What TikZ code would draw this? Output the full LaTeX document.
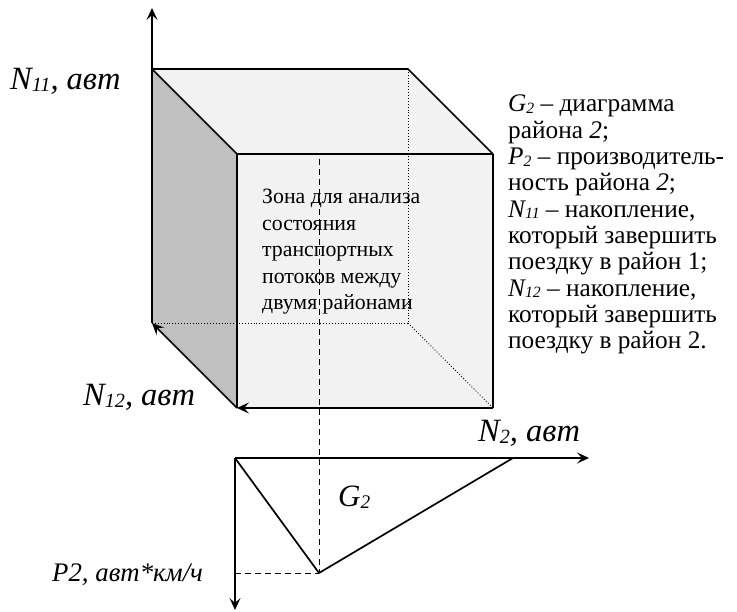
\documentclass[tikz,border=0pt]{standalone}
\usepackage{fontspec}
\usepackage{graphicx}
\setmainfont{Liberation Serif}
\usetikzlibrary{arrows.meta}
\newcommand\lowsub[1]{\raisebox{-0.06em}{\scalebox{0.62}{#1}}}
\begin{document}
\begin{tikzpicture}[x=1pt,y=-1pt,
  edge/.style={line width=1.7pt, line join=round},
  axis/.style={edge, -{Stealth[length=12pt,width=11pt,inset=5pt]}},
  hidden/.style={line width=0.9pt, dotted},
  guide/.style={line width=1pt, dash pattern=on 6pt off 4pt},
  lbl/.style={font=\fontsize{32.5}{36}\selectfont\itshape, inner sep=0pt, anchor=base west},
  txt/.style={inner sep=0pt, anchor=north west, align=left}]
\useasboundingbox (0,0) rectangle (737,612);
\definecolor{sidegrey}{HTML}{C0C0C0}
\definecolor{facelight}{HTML}{F2F2F2}
% cube corners
\coordinate (BTL) at (152,69);
\coordinate (BTR) at (408,69);
\coordinate (FTL) at (237,154);
\coordinate (FTR) at (493,154);
\coordinate (FBL) at (237,408);
\coordinate (FBR) at (493,408);
\coordinate (BBL) at (152,323);
\coordinate (BBR) at (408,323);
\coordinate (Ytop) at (152,8);
% faces
\fill[sidegrey] (BTL)--(FTL)--(FBL)--(BBL)--cycle;
\fill[facelight] (BTL)--(BTR)--(FTR)--(FTL)--cycle;
\fill[facelight] (FTL)--(FTR)--(FBR)--(FBL)--cycle;
% hidden edges
\draw[hidden] (BTR)--(BBR);
\draw[hidden] (BBL)--(BBR);
\draw[hidden] (BBR)--(FBR);
% visible edges
\draw[edge] (BTL)--(BTR)--(FTR)--(FTL)--cycle;
\draw[edge] (FTL)--(FBL);
\draw[edge] (FTR)--(FBR);
\draw[axis] (BBL)--(Ytop);
\draw[axis] (FBR)--(FBL);
\draw[axis] (FBL)--(BBL);
% lower diagram
\coordinate (O) at (235,458);
\coordinate (X) at (589,458);
\coordinate (D) at (235,610);
\coordinate (V) at (319,573);
\coordinate (E) at (513,458);
\coordinate (T) at (319,159);
\coordinate (Pd) at (235,573);
\draw[guide] (T)--(V);
\draw[guide] (Pd)--(V);
\draw[axis] (O)--(X);
\draw[axis] (O)--(D);
\draw[edge] (O)--(V)--(E);
% labels
\node[lbl] (n11) at (10,90) {N\lowsub{11}, авт};
\node[lbl] (n12) at (83,406) {N\lowsub{12}, авт};
\node[lbl] (n2) at (478,442) {N\lowsub{2}, авт};
\node[lbl, font=\fontsize{31}{34}\selectfont\itshape] (g2) at (338,507) {G\lowsub{2}};
\node[lbl, font=\fontsize{26.8}{30}\selectfont\itshape] (p2) at (52,581) {P2, авт*км/ч};
% cube text
\node[txt, font=\fontsize{21.8}{26.5}\selectfont] (zone) at (262,189)
  {Зона для анализа\\состояния\\транспортных\\потоков между\\двумя районами};
% legend
\node[txt, font=\fontsize{25.3}{26.3}\selectfont] (legend) at (508,95)
  {\textit{G\lowsub{2}} – диаграмма\\
   района \textit{2};\\
   \textit{P\lowsub{2}} – производитель-\\
   ность района \textit{2};\\
   \textit{N\lowsub{11}} – накопление,\\
   который завершить\\
   поездку в район 1;\\
   \textit{N\lowsub{12}} – накопление,\\
   который завершить\\
   поездку в район 2.};
\end{tikzpicture}
\end{document}
